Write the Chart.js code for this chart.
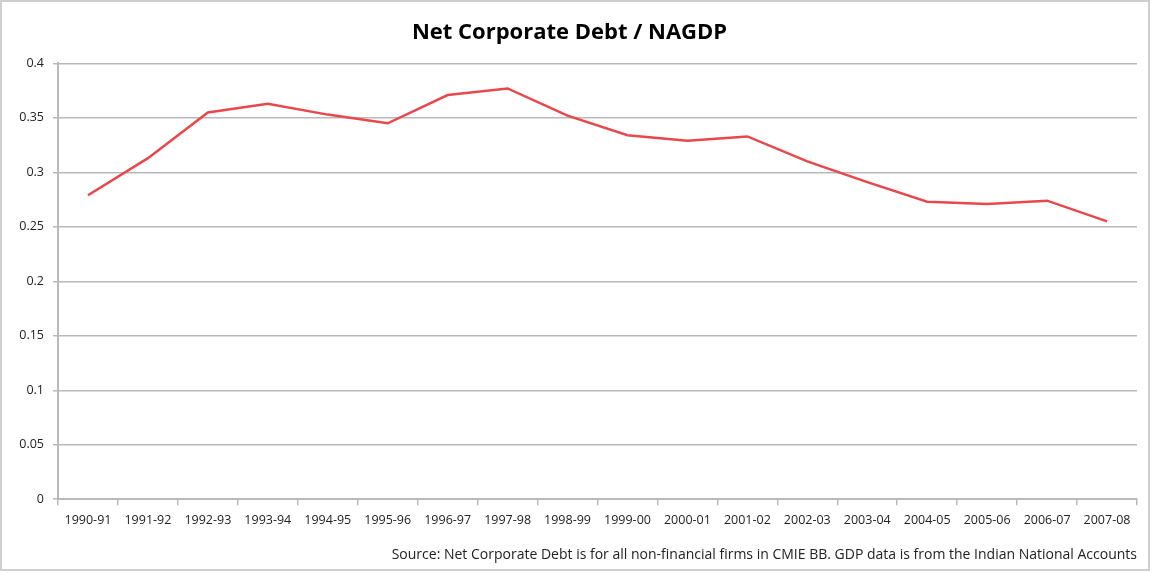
<!DOCTYPE html>
<html>
<head>
<meta charset="utf-8">
<script src="https://cdn.jsdelivr.net/npm/chart.js@4"></script>
<style>
  body { margin: 0; background: #fff; }
  #caixa {
    position: absolute; left: 0; top: 0;
    width: 1146px; height: 567px;
    border: 2px solid #cfcfcf;
  }
</style>
</head>
<body>
<div id="caixa"><canvas id="grafico" width="1146" height="567"></canvas></div>
<script>
// Dados do gráfico
const anos = ['1990-91', '1991-92', '1992-93', '1993-94', '1994-95', '1995-96', '1996-97', '1997-98', '1998-99',
              '1999-00', '2000-01', '2001-02', '2002-03', '2003-04', '2004-05', '2005-06', '2006-07', '2007-08'];
const dividaLiquida = [0.279, 0.313, 0.355, 0.363, 0.353, 0.345, 0.371, 0.377, 0.352,
                       0.334, 0.329, 0.333, 0.310, 0.291, 0.273, 0.271, 0.274, 0.255];
const ticksY = [0, 0.05, 0.1, 0.15, 0.2, 0.25, 0.3, 0.35, 0.4];

const titulo = 'Net Corporate Debt / NAGDP';
const fonte = 'Source: Net Corporate Debt is for all non-financial firms in CMIE BB. GDP data is from the Indian National Accounts';

const familia = "'Open Sans', sans-serif";
const cinza = '#b9b9b9';

Chart.defaults.font.family = familia;
Chart.defaults.color = '#222';

const ctx = document.getElementById('grafico').getContext('2d');
new Chart(ctx, {
    type: 'line',
    data: {
        labels: anos,
        datasets: [{
            label: titulo,
            data: dividaLiquida,
            borderColor: '#e8474b',
            borderWidth: 2.5,
            pointRadius: 0,
            tension: 0,
            fill: false
        }]
    },
    options: {
        responsive: false,
        animation: false,
        layout: { padding: { left: 0, right: 11, top: 0, bottom: 3 } },
        plugins: {
            legend: { display: false },
            tooltip: { enabled: false },
            title: {
                display: true,
                text: titulo,
                color: '#000',
                font: { size: 22, weight: 'bold', family: familia, lineHeight: 1.2 },
                padding: { top: 18, bottom: 17 }
            },
            subtitle: {
                display: true,
                position: 'bottom',
                align: 'end',
                text: fonte,
                color: '#222',
                font: { size: 14, family: familia, lineHeight: 1.2 },
                padding: { top: 3, bottom: 3 }
            }
        },
        scales: {
            x: {
                offset: true,
                grid: {
                    offset: true,
                    drawOnChartArea: false,
                    drawTicks: true,
                    tickLength: 6,
                    color: cinza,
                    lineWidth: 1.5
                },
                border: { color: cinza, width: 2 },
                ticks: {
                    color: '#222',
                    font: { size: 12.5 },
                    padding: 8,
                    maxRotation: 0,
                    autoSkip: false
                },
                afterFit: s => { s.height = 44; }
            },
            y: {
                min: 0,
                max: 0.4,
                afterBuildTicks: s => { s.ticks = ticksY.map(v => ({ value: v })); },
                grid: {
                    color: cinza,
                    lineWidth: 1.5,
                    tickLength: 5
                },
                border: { color: cinza, width: 2 },
                ticks: {
                    color: '#222',
                    font: { size: 12.5 },
                    padding: 9,
                    callback: v => String(Number(v.toFixed(2)))
                },
                afterFit: s => { s.width = 56; }
            }
        }
    }
});
</script>
</body>
</html>
